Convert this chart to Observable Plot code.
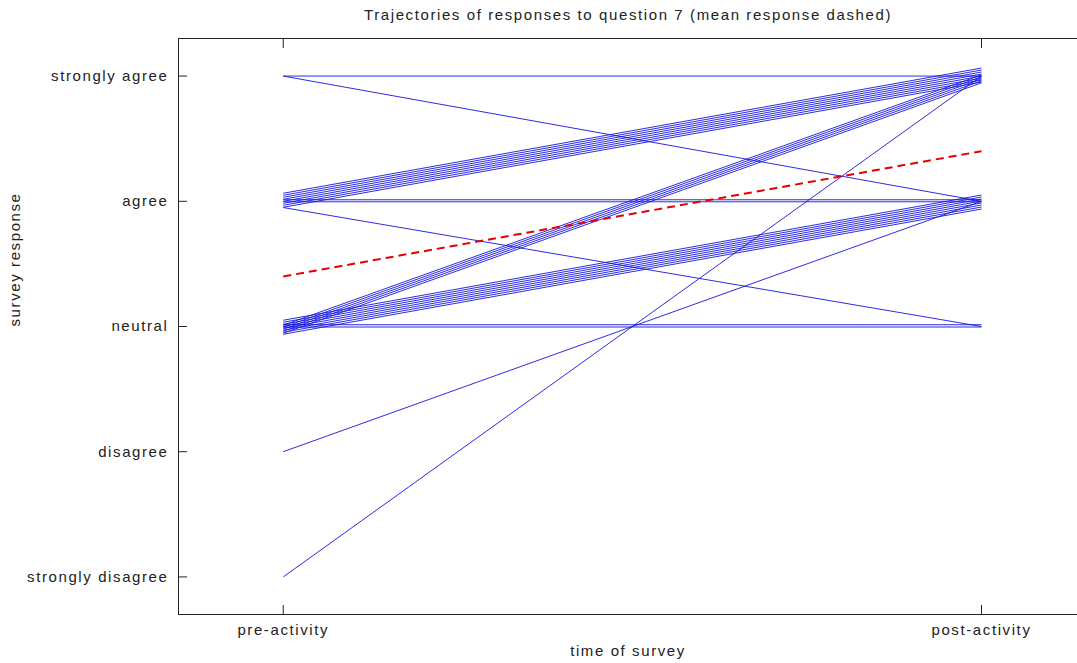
<!DOCTYPE html>
<html><head><meta charset="utf-8">
<script src="https://cdn.jsdelivr.net/npm/d3@7"></script>
<script src="https://cdn.jsdelivr.net/npm/@observablehq/plot@0.6"></script>
<style>
body{margin:0;background:#fff}
#chart svg{font-family:"Liberation Sans",Arial,Helvetica,sans-serif;letter-spacing:1.6px;color:#222;background:#fff}
</style>
</head><body><div id="chart"></div>
<script>
const responseLabels = ["strongly disagree","disagree","neutral","agree","strongly agree"];
const timeLabels = ["pre-activity","post-activity"];
const titleText = "Trajectories of responses to question 7 (mean response dashed)";
const xLabel = "time of survey";
const yLabel = "survey response";

// one entry per respondent: response before and after (1 = strongly disagree ... 5 = strongly agree)
const preResponse  = [5,5, 4,4,4,4,4,4,4,4, 4,4, 4, 3,3,3,3,3, 3,3,3,3,3,3,3,3, 3,3, 2, 1];
const postResponse = [5,4, 5,5,5,5,5,5,5,5, 4,4, 3, 5,5,5,5,5, 4,4,4,4,4,4,4,4, 3,3, 4, 5];
// small vertical jitter applied to each trajectory end so overlapping lines stay visible
const preJitter = [0,0,
  0.064,0.048,0.032,0.016,0.0,-0.016,-0.032,-0.048,
  0.012,-0.004,
  -0.05,
  0.01,-0.006,-0.022,-0.038,-0.054,
  0.05,0.034,0.018,0.002,-0.014,-0.03,-0.046,-0.062,
  0.014,-0.004,
  0, 0];
const postJitter = [0,0,
  0.064,0.048,0.032,0.016,0.0,-0.016,-0.032,-0.048,
  0.012,-0.004,
  0.0,
  0.01,-0.006,-0.022,-0.038,-0.054,
  0.05,0.034,0.018,0.002,-0.014,-0.03,-0.046,-0.062,
  0.014,-0.004,
  0, 0];

const trajectories = preResponse.map((p, i) => ({
  pre: p + preJitter[i], post: postResponse[i] + postJitter[i]
}));
const meanLine = [{pre: d3.mean(preResponse), post: d3.mean(postResponse)}];

const chart = Plot.plot({
  width: 1077, height: 663,
  marginLeft: 178, marginTop: 38, marginBottom: 49, marginRight: 0,
  x: {domain: [0.85, 2.1375]},
  y: {domain: [0.7, 5.3]},
  marks: [
    Plot.frame({anchor: "left", stroke: "#222"}),
    Plot.frame({anchor: "top", stroke: "#222"}),
    Plot.frame({anchor: "bottom", stroke: "#222"}),
    Plot.axisY({ticks: [1,2,3,4,5], tickFormat: d => responseLabels[d-1], tickSize: -9, tickPadding: 19, label: null, fontSize: 15, stroke: "#222"}),
    Plot.axisX({anchor: "bottom", ticks: [1,2], tickFormat: d => timeLabels[d-1], tickSize: -9, tickPadding: 19, label: null, fontSize: 15}),
    Plot.axisX({anchor: "top", ticks: [1,2], tickFormat: () => "", tickSize: -9, label: null}),
    Plot.link(trajectories, {x1: () => 1, y1: "pre", x2: () => 2, y2: "post", stroke: "#1414e0", strokeWidth: 0.9}),
    Plot.link(meanLine, {x1: () => 1, y1: "pre", x2: () => 2, y2: "post", stroke: "#e60000", strokeWidth: 2, strokeDasharray: "8,5"}),
    Plot.text([titleText], {frameAnchor: "top", lineAnchor: "middle", dy: -23, fontSize: 15, fill: "#222", text: d => d}),
    Plot.text([xLabel], {frameAnchor: "bottom", lineAnchor: "middle", dy: 37, fontSize: 15, fill: "#222", text: d => d}),
    Plot.text([yLabel], {frameAnchor: "left", lineAnchor: "middle", dx: -163, rotate: -90, fontSize: 15, fill: "#222", text: d => d})
  ]
});
document.getElementById("chart").append(chart);
</script>
</body></html>
